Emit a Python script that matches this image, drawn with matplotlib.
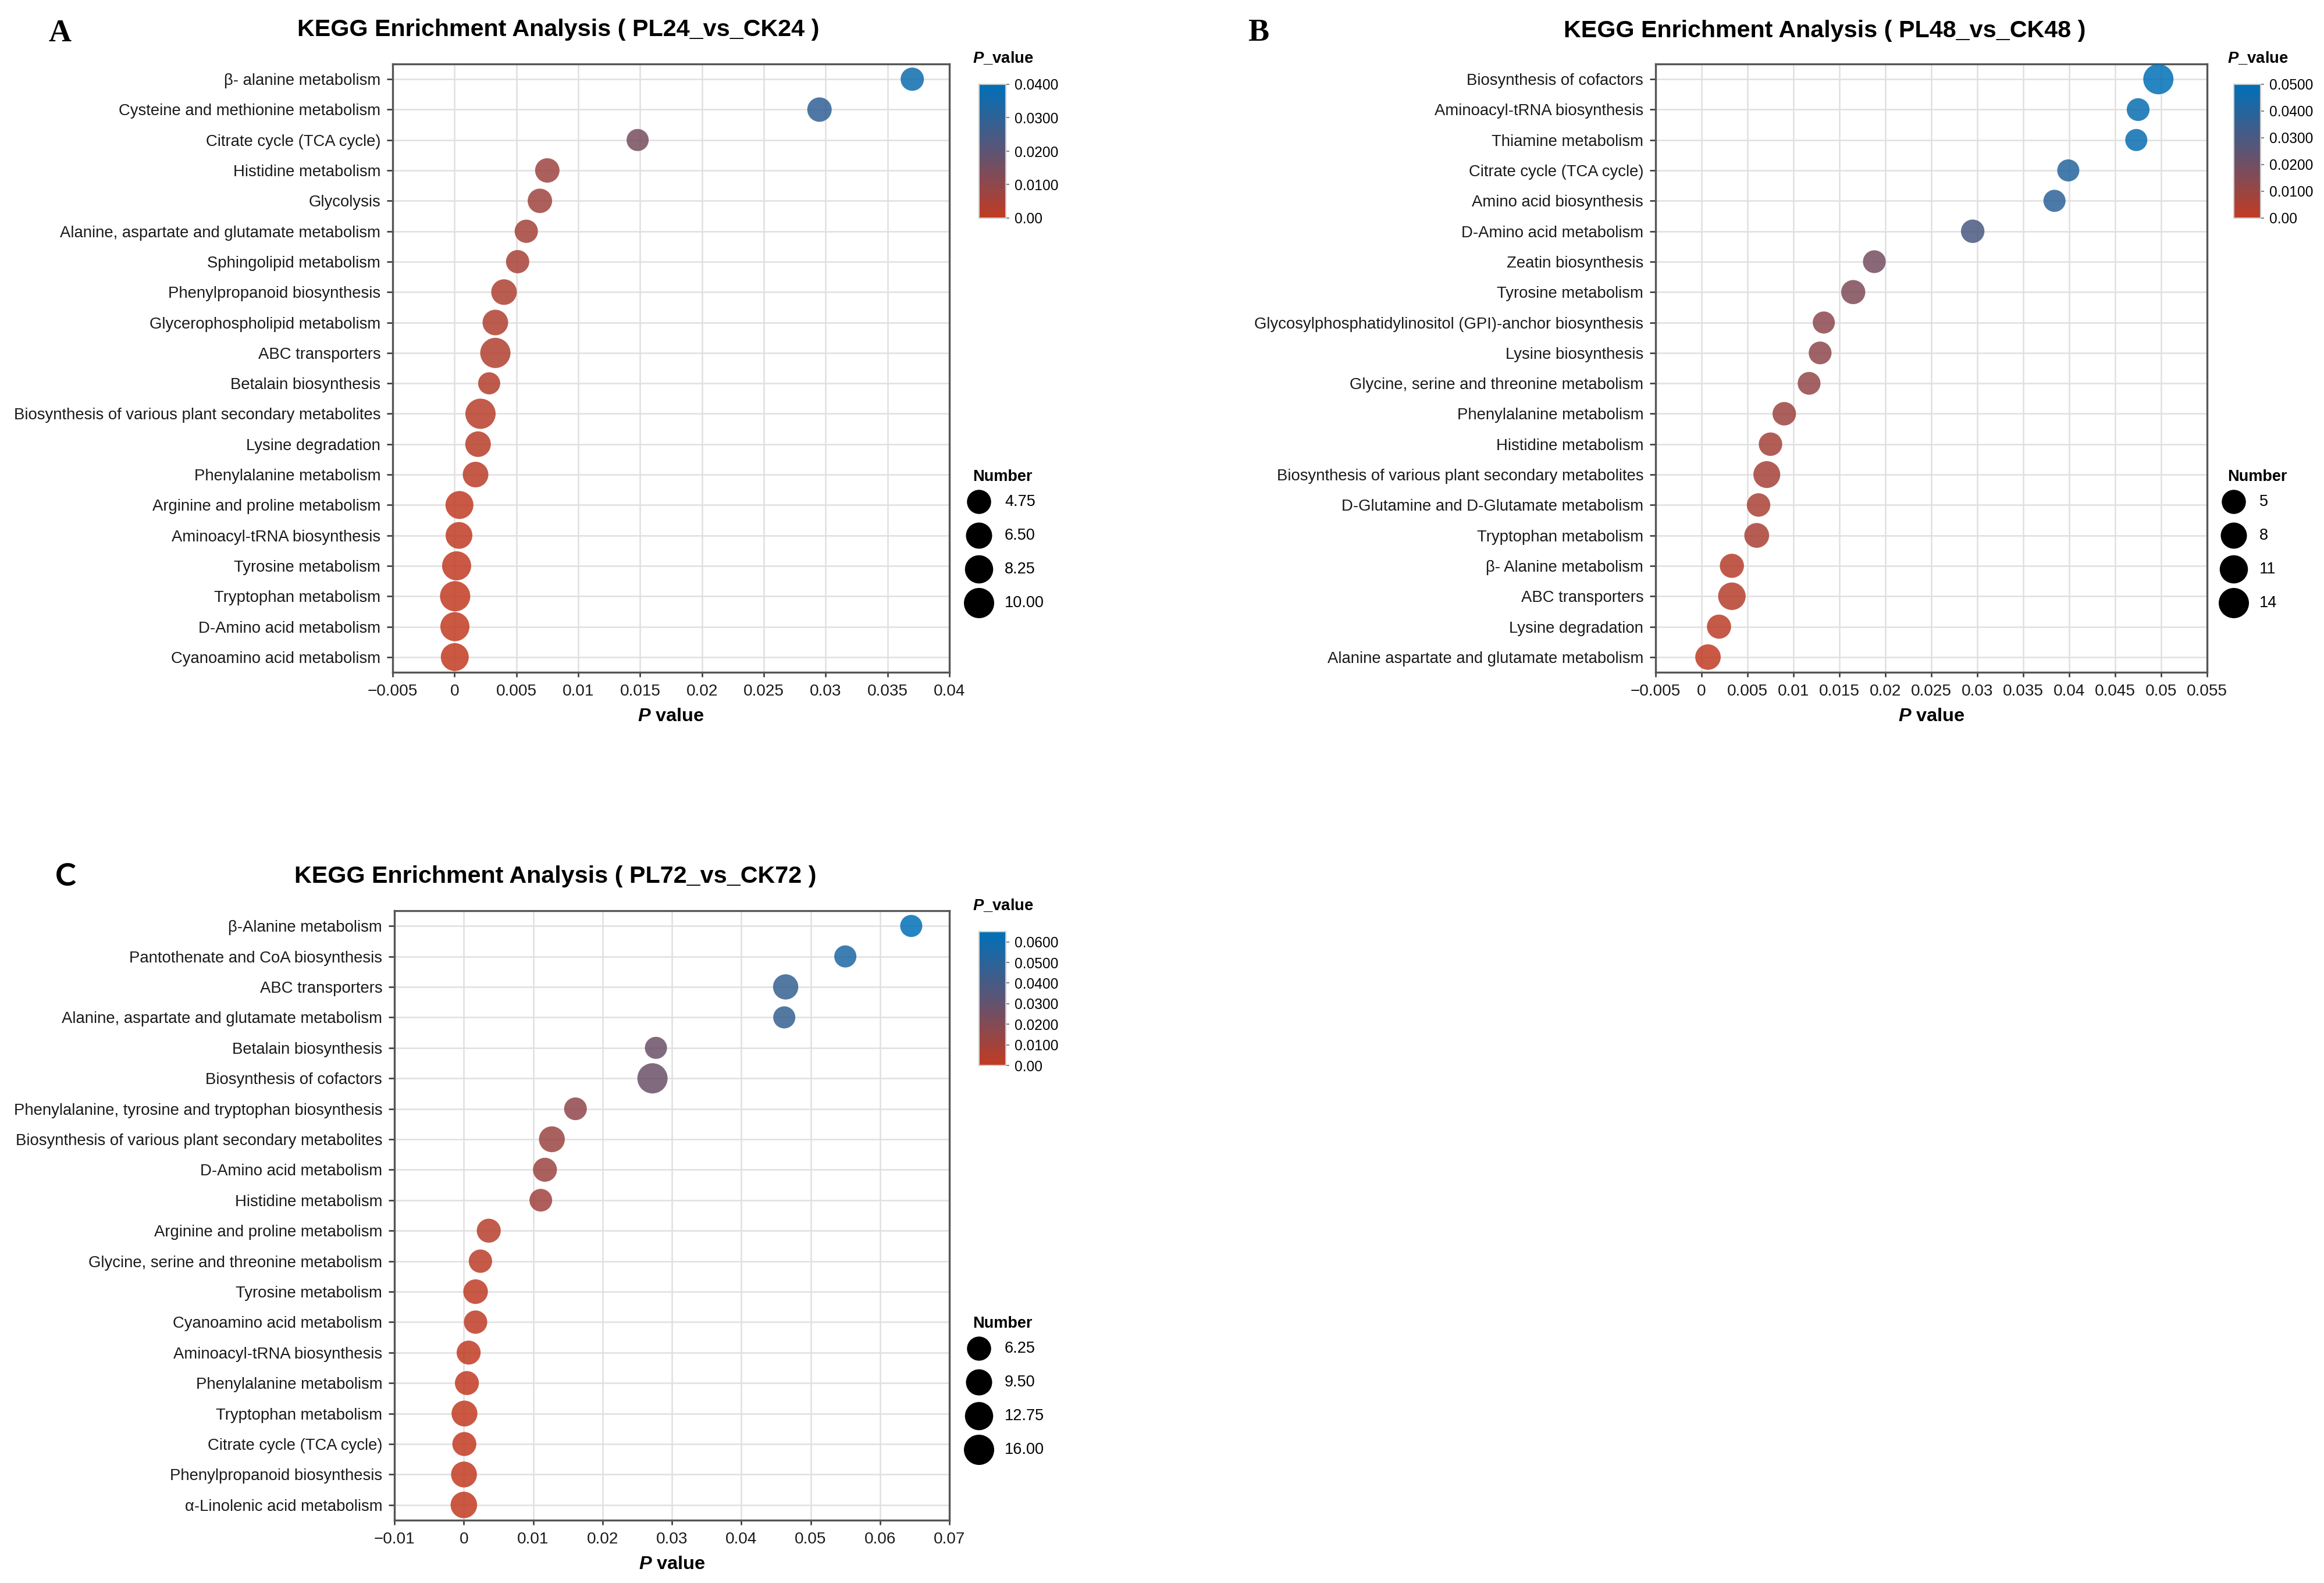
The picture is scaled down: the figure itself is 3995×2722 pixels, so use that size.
import numpy as np
import matplotlib.pyplot as plt
from matplotlib.colors import LinearSegmentedColormap, Normalize
from matplotlib.cm import ScalarMappable
from matplotlib.ticker import FuncFormatter

plt.rcParams['font.family'] = ['Liberation Sans', 'DejaVu Sans']
plt.rcParams['mathtext.fontset'] = 'custom'
plt.rcParams['mathtext.it'] = 'Liberation Sans:italic:bold'
plt.rcParams['mathtext.rm'] = 'Liberation Sans'
plt.rcParams['mathtext.bf'] = 'Liberation Sans:bold'

# ---- data ----
a_terms = ['β- alanine metabolism', 'Cysteine and methionine metabolism', 'Citrate cycle (TCA cycle)',
           'Histidine metabolism', 'Glycolysis', 'Alanine, aspartate and glutamate metabolism',
           'Sphingolipid metabolism', 'Phenylpropanoid biosynthesis', 'Glycerophospholipid metabolism',
           'ABC transporters', 'Betalain biosynthesis', 'Biosynthesis of various plant secondary metabolites',
           'Lysine degradation', 'Phenylalanine metabolism', 'Arginine and proline metabolism',
           'Aminoacyl-tRNA biosynthesis', 'Tyrosine metabolism', 'Tryptophan metabolism',
           'D-Amino acid metabolism', 'Cyanoamino acid metabolism']
a_pvalue = [0.0370, 0.0295, 0.0148, 0.0075, 0.0069, 0.0058, 0.0051, 0.0040, 0.0033, 0.0033,
            0.0028, 0.0021, 0.0019, 0.0017, 0.0004, 0.00036, 0.00017, 0.00005, 0.00003, 0.00002]
a_number = [4, 5, 3, 5, 5, 4, 4, 6, 6, 10, 3, 10, 6, 6, 8, 7, 9, 10, 9, 8]

b_terms = ['Biosynthesis of cofactors', 'Aminoacyl-tRNA biosynthesis', 'Thiamine metabolism',
           'Citrate cycle (TCA cycle)', 'Amino acid biosynthesis', 'D-Amino acid metabolism',
           'Zeatin biosynthesis', 'Tyrosine metabolism',
           'Glycosylphosphatidylinositol (GPI)-anchor biosynthesis', 'Lysine biosynthesis',
           'Glycine, serine and threonine metabolism', 'Phenylalanine metabolism', 'Histidine metabolism',
           'Biosynthesis of various plant secondary metabolites', 'D-Glutamine and D-Glutamate metabolism',
           'Tryptophan metabolism', 'β- Alanine metabolism', 'ABC transporters', 'Lysine degradation',
           'Alanine aspartate and glutamate metabolism']
b_pvalue = [0.0497, 0.0475, 0.0473, 0.0399, 0.0384, 0.0295, 0.0188, 0.0165, 0.0133, 0.0129,
            0.0117, 0.0090, 0.0075, 0.0071, 0.0062, 0.0060, 0.0033, 0.0033, 0.0019, 0.0007]
b_number = [14, 3, 2, 2, 2, 4, 3, 5, 2, 3, 3, 4, 4, 9, 4, 6, 5, 10, 5, 7]

c_terms = ['β-Alanine metabolism', 'Pantothenate and CoA biosynthesis', 'ABC transporters',
           'Alanine, aspartate and glutamate metabolism', 'Betalain biosynthesis', 'Biosynthesis of cofactors',
           'Phenylalanine, tyrosine and tryptophan biosynthesis',
           'Biosynthesis of various plant secondary metabolites', 'D-Amino acid metabolism',
           'Histidine metabolism', 'Arginine and proline metabolism', 'Glycine, serine and threonine metabolism',
           'Tyrosine metabolism', 'Cyanoamino acid metabolism', 'Aminoacyl-tRNA biosynthesis',
           'Phenylalanine metabolism', 'Tryptophan metabolism', 'Citrate cycle (TCA cycle)',
           'Phenylpropanoid biosynthesis', 'α-Linolenic acid metabolism']
c_pvalue = [0.0645, 0.0550, 0.0464, 0.0462, 0.0277, 0.0272, 0.0161, 0.0127, 0.0117, 0.0111,
            0.0036, 0.0024, 0.0017, 0.0017, 0.0007, 0.00045, 0.0001, 0.00008, 0.00003, 0.00001]
c_number = [3, 3, 8, 3, 3, 16, 4, 9, 6, 4, 6, 5, 7, 5, 6, 6, 9, 6, 9, 10]

W, H = 3995, 2722
fig = plt.figure(figsize=(W / 300, H / 300), dpi=300)


def box(l, t, r, b):
    return [l / W, 1 - b / H, (r - l) / W, (b - t) / H]


cmap = LinearSegmentedColormap.from_list('kegg', ['#C23B22', '#5C5474', '#0070B8'])


def dot_size(n, lo, hi):
    d = 38 + (np.asarray(n, float) - lo) / (hi - lo) * 14   # diameter in px
    return (d * 72 / 300) ** 2


def fmt_x(v, pos):
    v = round(v, 4)
    if v == 0:
        return '0'
    return ('\u2212' if v < 0 else '') + f'{abs(v):g}'


def fmt_cbar(v, pos):
    return '0.00' if abs(v) < 1e-9 else f'{v:.4f}'


panels = [
    dict(letter='A', lfont='Liberation Serif', terms=a_terms, p=a_pvalue, n=a_number,
         title='KEGG Enrichment Analysis ( PL24_vs_CK24 )', xlim=(-0.005, 0.04), xstep=0.005, vmax=0.04,
         axbox=(675, 110, 1632, 1156), title_xy=(960, 51), letter_xy=(103, 58), cl=1683, ct=145, nt=820),
    dict(letter='B', lfont='Liberation Serif', terms=b_terms, p=b_pvalue, n=b_number,
         title='KEGG Enrichment Analysis ( PL48_vs_CK48 )', xlim=(-0.005, 0.055), xstep=0.005, vmax=0.05,
         axbox=(2846, 110, 3794, 1156), title_xy=(3137, 53), letter_xy=(2163, 57), cl=3840, ct=145, nt=820),
    dict(letter='C', lfont='Lato', terms=c_terms, p=c_pvalue, n=c_number,
         title='KEGG Enrichment Analysis ( PL72_vs_CK72 )', xlim=(-0.01, 0.07), xstep=0.01, vmax=0.065,
         axbox=(678, 1566, 1632, 2614), title_xy=(955, 1507), letter_xy=(113, 1507), cl=1683, ct=1602, nt=2276),
]

for pn in panels:
    ax = fig.add_axes(box(*pn['axbox']))
    y = np.arange(len(pn['terms']))
    lo, hi = min(pn['n']), max(pn['n'])
    norm = Normalize(0, pn['vmax'])
    ax.scatter(pn['p'], y, s=dot_size(pn['n'], lo, hi), c=pn['p'], cmap=cmap, norm=norm,
               alpha=0.85, edgecolors='none', zorder=3, clip_on=False)
    ax.set_yticks(y)
    ax.set_yticklabels(pn['terms'])
    ax.set_ylim(len(y) - 0.5, -0.5)
    ax.set_xlim(*pn['xlim'])
    ax.set_xticks(np.arange(pn['xlim'][0], pn['xlim'][1] + pn['xstep'] / 2, pn['xstep']))
    ax.xaxis.set_major_formatter(FuncFormatter(fmt_x))
    ax.grid(True, color='#e0e0e0', lw=0.6)
    ax.set_axisbelow(True)
    for s in ax.spines.values():
        s.set_color('#555555')
        s.set_linewidth(0.8)
    ax.tick_params(axis='y', length=2.4, width=0.6, color='#333333', labelsize=6.6, pad=2.6, labelcolor='#1a1a1a')
    ax.tick_params(axis='x', length=2.0, width=0.6, color='#333333', labelsize=6.7, pad=2.9, labelcolor='#1a1a1a')
    ax.set_xlabel(r'$\mathit{P}$ value', fontsize=7.8, fontweight='bold', labelpad=3.6)

    fig.text(pn['title_xy'][0] / W, 1 - pn['title_xy'][1] / H, pn['title'], ha='center', va='center',
             fontsize=9.9, fontweight='bold')
    fig.text(pn['letter_xy'][0] / W, 1 - pn['letter_xy'][1] / H, pn['letter'], ha='center', va='center',
             fontsize=13, fontweight='bold', family=pn['lfont'])

    # colour bar
    cl, ct = pn['cl'], pn['ct']
    cax = fig.add_axes(box(cl, ct, cl + 46, ct + 230))
    cb = fig.colorbar(ScalarMappable(norm=norm, cmap=cmap), cax=cax)
    cb.set_ticks(np.arange(0, pn['vmax'] + 1e-9, 0.01))
    cb.ax.yaxis.set_major_formatter(FuncFormatter(fmt_cbar))
    cb.outline.set_edgecolor('#cccccc')
    cb.outline.set_linewidth(0.5)
    cax.tick_params(length=1.5, width=0.5, color='#888888', labelsize=5.9, pad=2)
    fig.text((cl - 11) / W, 1 - (ct - 44) / H, r'$\mathit{P}$_value', ha='left', va='center',
             fontsize=6.6, fontweight='bold')

    # size legend
    nt = pn['nt']
    fig.text((cl - 11) / W, 1 - nt / H, 'Number', ha='left', va='center', fontsize=6.5, fontweight='bold')
    vals = np.linspace(lo, hi, 5)[1:]
    labels = [f'{v:.0f}' for v in vals] if np.allclose(vals, np.round(vals)) else [f'{v:.2f}' for v in vals]
    lax = fig.add_axes(box(cl - 40, nt + 14, cl + 110, nt + 14 + 4 * 58))
    lax.set_xlim(0, 150)
    lax.set_ylim(3.5, -0.5)
    lax.axis('off')
    ly = np.arange(len(vals))
    lax.scatter(np.full(len(vals), 40), ly, s=dot_size(vals, lo, hi), color='black', edgecolors='none',
                clip_on=False)
    for yy, lab in zip(ly, labels):
        lax.text(84, yy, lab, ha='left', va='center', fontsize=6.5)

fig.savefig('out.png', dpi=300, facecolor='white')
